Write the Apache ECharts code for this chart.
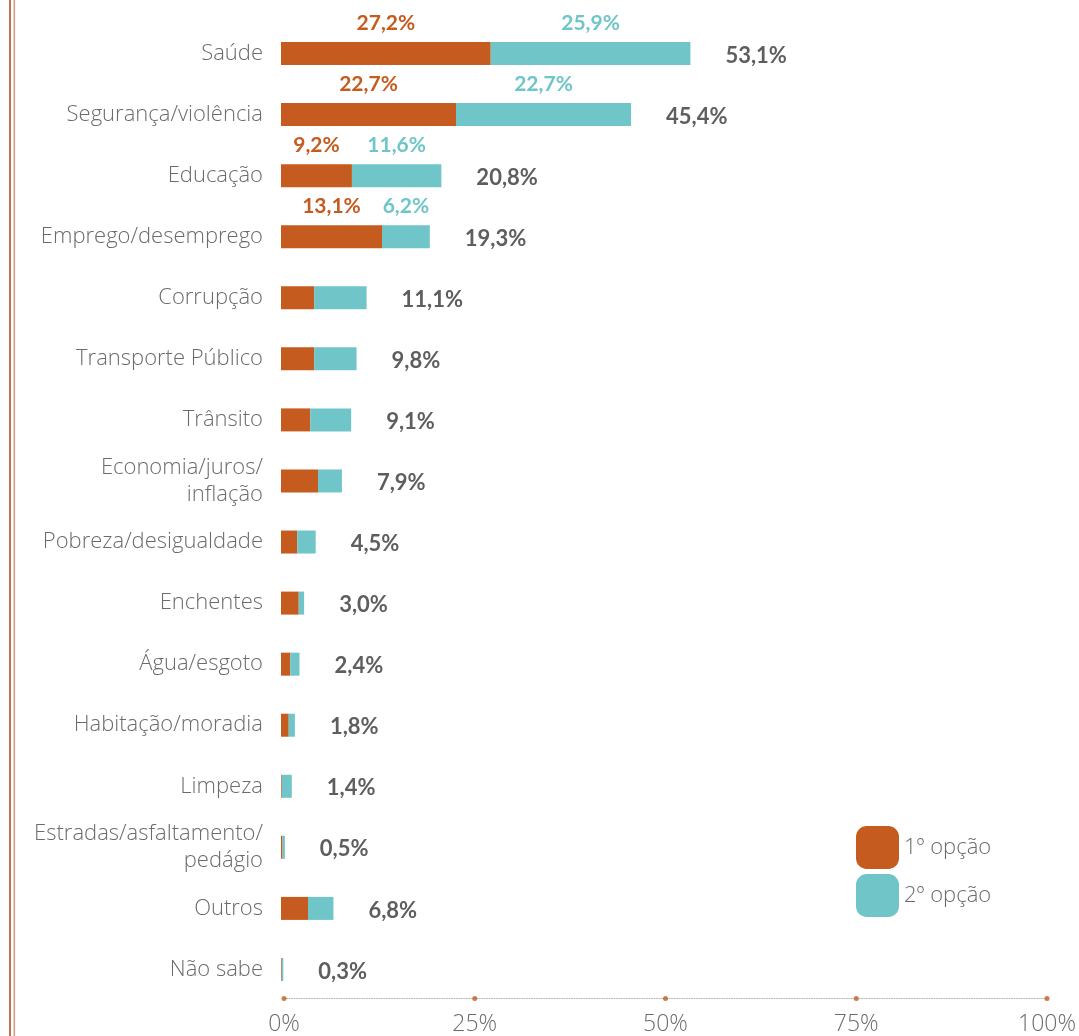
<!DOCTYPE html>
<html>
<head>
<meta charset="utf-8">
<title>Principais problemas</title>
<script src="https://cdn.jsdelivr.net/npm/echarts@6/dist/echarts.min.js"></script>
<style>
  html, body { margin: 0; padding: 0; background: #ffffff; }
  #chart { width: 1079px; height: 1036px; }
</style>
</head>
<body>
<div id="chart"></div>
<script>
// Problem areas, share of mentions (%)
const categories = [
  'Saúde', 'Segurança/violência', 'Educação', 'Emprego/desemprego',
  'Corrupção', 'Transporte Público', 'Trânsito', 'Economia/juros/\ninflação',
  'Pobreza/desigualdade', 'Enchentes', 'Água/esgoto', 'Habitação/moradia',
  'Limpeza', 'Estradas/asfaltamento/\npedágio', 'Outros', 'Não sabe'
];
const firstOption  = [27.2, 22.7, 9.2, 13.1, 4.3, 4.3, 3.8, 4.8, 2.1, 2.3, 1.2, 1.0, 0.1, 0.2, 3.5, 0.1];
const secondOption = [25.9, 22.7, 11.6, 6.2, 6.8, 5.5, 5.3, 3.1, 2.4, 0.7, 1.2, 0.8, 1.3, 0.3, 3.3, 0.2];
const totals       = [53.1, 45.4, 20.8, 19.3, 11.1, 9.8, 9.1, 7.9, 4.5, 3.0, 2.4, 1.8, 1.4, 0.5, 6.8, 0.3];
const axisTicks = [0, 25, 50, 75, 100];
const seriesNames = ['1º opção', '2º opção'];
const labelledRows = 4; // segment values are printed for the top rows only

const ORANGE = '#c55b1f';
const TEAL = '#6fc5c7';
const LIGHT_FONT = '"Open Sans", Lato, sans-serif';
const BOLD_FONT = 'Lato, "Open Sans", sans-serif';

const pct = v => v.toFixed(1).replace('.', ',') + '%';

function segmentData(values, color) {
  return values.map((v, i) => i < labelledRows
    ? { value: v, label: { show: true, color: color } }
    : { value: v });
}

const chart = echarts.init(document.getElementById('chart'), null, { renderer: 'canvas' });

chart.setOption({
  animation: false,
  backgroundColor: '#ffffff',
  textStyle: { fontFamily: LIGHT_FONT },
  graphic: [
    { type: 'rect', shape: { x: 9, y: 0, width: 2, height: 1036 }, style: { fill: '#bf7456' } },
    { type: 'rect', shape: { x: 13.5, y: 0, width: 1.6, height: 1036 }, style: { fill: '#dc9c83' } }
  ],
  legend: {
    data: seriesNames,
    orient: 'vertical',
    left: 856,
    top: 826,
    padding: 0,
    itemWidth: 43,
    itemHeight: 43,
    itemGap: 5,
    icon: 'roundRect',
    textStyle: { fontFamily: LIGHT_FONT, fontSize: 22, fontWeight: 300, color: '#6b6b6b', padding: [6, 0, 0, 0] }
  },
  grid: [
    { left: 281, width: 771, top: 23, height: 977, containLabel: false },
    { left: 284, width: 764, top: 990, height: 20, containLabel: false }
  ],
  xAxis: [
    { gridIndex: 0, type: 'value', min: 0, max: 100, show: false },
    {
      gridIndex: 1, type: 'value', min: 0, max: 100, interval: 25,
      axisLine: { show: true, onZero: true, lineStyle: { color: '#b5b5b5', type: [1, 1.5], width: 1 } },
      axisTick: { show: false },
      splitLine: { show: false },
      axisLabel: {
        margin: 6, fontFamily: LIGHT_FONT, fontSize: 23, fontWeight: 300, color: '#6b6b6b',
        formatter: v => v + '%'
      }
    }
  ],
  yAxis: [
    {
      gridIndex: 0, type: 'category', data: categories, inverse: true,
      axisLine: { show: false }, axisTick: { show: false }, splitLine: { show: false },
      axisLabel: {
        margin: 18, fontFamily: LIGHT_FONT, fontSize: 22, fontWeight: 300, color: '#6b6b6b',
        lineHeight: 27, align: 'right', padding: [4, 0, 0, 0]
      }
    },
    { gridIndex: 1, type: 'value', min: -1, max: 1, show: false }
  ],
  series: [
    {
      name: seriesNames[0], type: 'bar', stack: 'opcoes', barWidth: 23,
      xAxisIndex: 0, yAxisIndex: 0,
      itemStyle: { color: ORANGE },
      label: {
        show: false, position: 'top', distance: 8,
        fontFamily: BOLD_FONT, fontSize: 21, fontWeight: 'bold',
        formatter: p => pct(p.value)
      },
      data: segmentData(firstOption, ORANGE)
    },
    {
      name: seriesNames[1], type: 'bar', stack: 'opcoes', barWidth: 23,
      xAxisIndex: 0, yAxisIndex: 0,
      itemStyle: { color: TEAL },
      label: {
        show: false, position: 'top', distance: 8,
        fontFamily: BOLD_FONT, fontSize: 21, fontWeight: 'bold',
        formatter: p => pct(p.value)
      },
      data: segmentData(secondOption, TEAL)
    },
    {
      name: 'Total', type: 'bar', barWidth: 23, barGap: '-100%', z: 1, silent: true,
      xAxisIndex: 0, yAxisIndex: 0,
      itemStyle: { color: 'rgba(0,0,0,0)' },
      label: {
        show: true, position: 'right', distance: 35, offset: [0, 2],
        fontFamily: BOLD_FONT, fontSize: 22, fontWeight: 'bold', color: '#5e5e5e',
        formatter: p => pct(p.value)
      },
      data: totals
    },
    {
      name: 'ticks', type: 'scatter', xAxisIndex: 1, yAxisIndex: 1, silent: true,
      symbol: 'circle', symbolSize: 5,
      itemStyle: { color: ORANGE },
      data: axisTicks.map(t => [t, 0])
    }
  ]
});
</script>
</body>
</html>
